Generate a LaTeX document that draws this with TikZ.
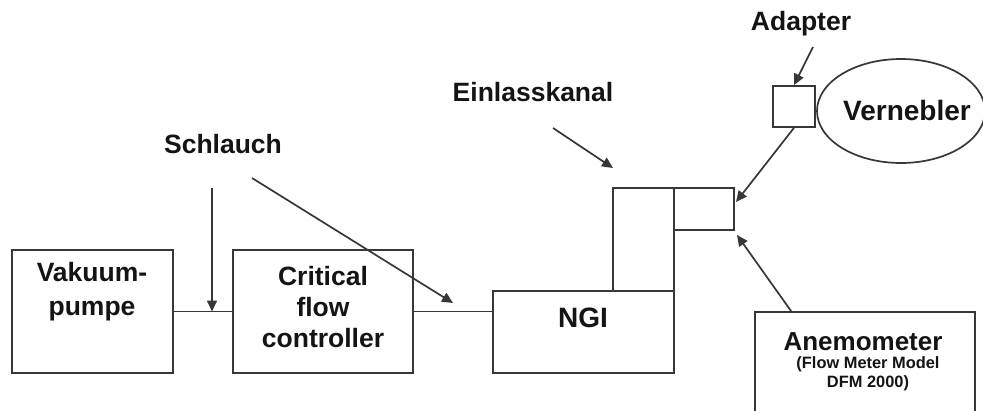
\documentclass[tikz,border=0pt]{standalone}
\usepackage{fontspec}
\setmainfont{Liberation Sans}
\usepackage{tikz}
\usetikzlibrary{arrows.meta,shapes.geometric,positioning,calc}
\definecolor{LineGray}{RGB}{55,55,55}
\definecolor{TextDark}{RGB}{20,20,20}
\tikzset{
  blk/.style={draw=LineGray,line width=1.7pt,fill=white,rectangle,inner sep=0pt},
  lbl/.style={text=TextDark,font=\fontsize{26.5}{31}\selectfont\bfseries,align=center,inner sep=0pt},
  arr/.style={-{Triangle[length=11pt,width=10pt]},LineGray,line width=1.7pt},
  pipe/.style={LineGray,line width=1.7pt},
}

\begin{document}
\begin{tikzpicture}[x=1pt,y=-1pt]
    \clip (0,0) rectangle (983,410);
    %% Boxes
    \node[blk,minimum width=161pt,minimum height=123pt] (pump)  at (92.5,311.5) {};
    \node[blk,minimum width=180pt,minimum height=123pt] (ctrl)  at (323,311.5)  {};
    \node[blk,minimum width=61pt,minimum height=103pt]  (kanal) at (643.5,239.5) {};
    \node[blk,minimum width=60pt,minimum height=42pt]   (port)  at (704,209)    {};
    \node[blk,minimum width=181pt,minimum height=82pt]  (ngi)   at (583.5,332)  {};
    \node[blk,minimum width=42pt,minimum height=41pt]   (adapt) at (794,106.5)  {};
    \node[blk,ellipse,minimum width=168pt,minimum height=104pt] (vern) at (901,111) {};
    \node[blk,minimum width=220pt,minimum height=104pt] (anemo) at (865,364)    {};
    %% Texts
    \node[lbl,font=\fontsize{26.5}{34}\selectfont\bfseries] (pumptxt) at (92,292) {Vakuum-\\pumpe};
    \node[lbl] (ctrltxt) at (323,307)  {Critical\\flow\\controller};
    \node[lbl,font=\fontsize{28}{31}\selectfont\bfseries] (ngitxt)  at (583,317.5) {NGI};
    \node[lbl,font=\fontsize{28}{31}\selectfont\bfseries] (verntxt) at (907,110)  {Vernebler};
    \node[lbl,font=\fontsize{26}{30}\selectfont\bfseries] (anemotxt) at (863,342) {Anemometer};
    \node[lbl,font=\fontsize{16.4}{19}\selectfont\bfseries] (dfmtxt) at (868,374) {(Flow Meter Model\\DFM 2000)};
    \node[lbl] (schlauch) at (223,144) {Schlauch};
    \node[lbl] (einlass)  at (533,92)  {Einlasskanal};
    \node[lbl] (adapter)  at (801,24)  {Adapter};
    %% Pipes
    \draw[pipe] (pump.east) -- (ctrl.west);
    \draw[pipe] (ctrl.east) -- (ctrl.east -| ngi.west);
    %% Pointer arrows
    \coordinate (s1) at (212,188);
    \coordinate (s2) at (252,178);
    \coordinate (s3) at (453,303);
    \coordinate (e1) at (553,128);
    \coordinate (e2) at (613,168);
    \coordinate (a1) at (813,47);
    \coordinate (p1) at (736,202);
    \coordinate (p2) at (737,235);
    \draw[arr] (s1) -- (s1 |- pump.east);
    \draw[arr] (s2) -- (s3);
    \draw[arr] (e1) -- (e2);
    \draw[arr] (a1) -- (adapt.north);
    \draw[arr] (adapt.south) -- (p1);
    \draw[arr] ($(anemo.north west)+(37,0)$) -- (p2);
\end{tikzpicture}
\end{document}
